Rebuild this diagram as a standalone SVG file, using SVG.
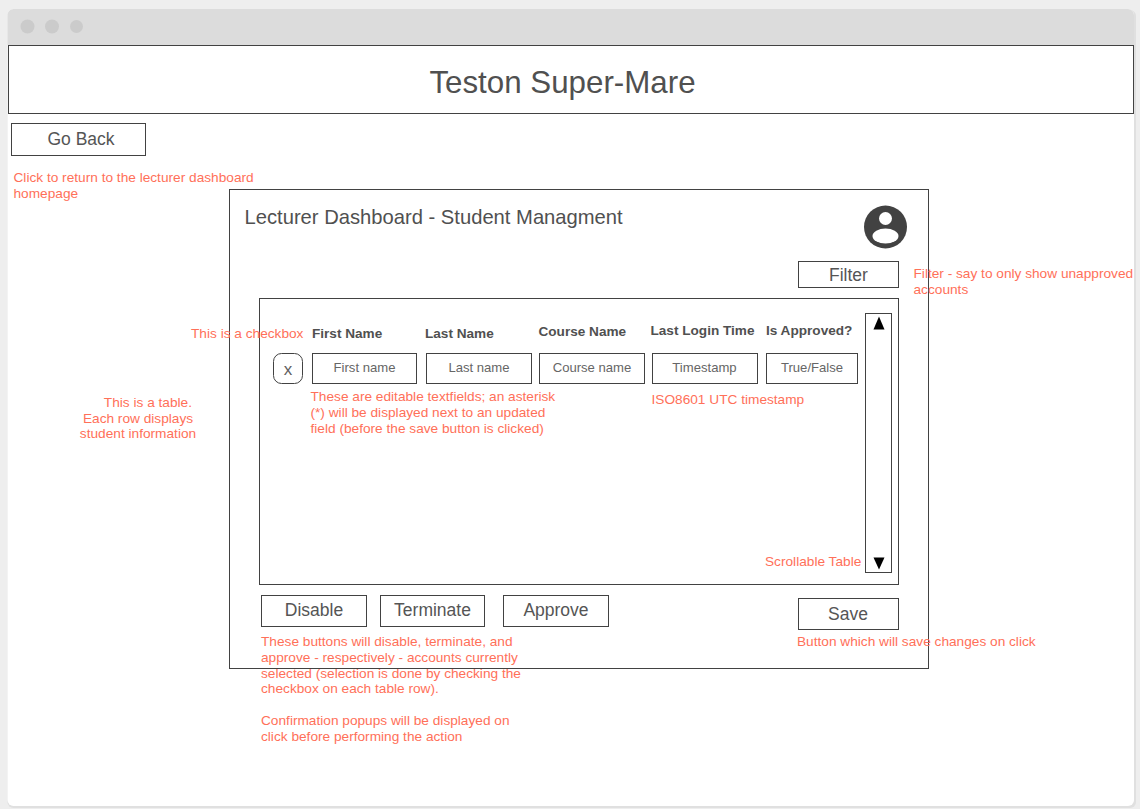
<svg xmlns="http://www.w3.org/2000/svg" width="1140" height="809" viewBox="0 0 1140 809">
<style>
.s{fill:#fff;stroke:#424242;stroke-width:1}
text{font-family:"Liberation Sans",Arial,sans-serif}
.n{font-size:13.680px;fill:#ff7059}
.b{font-size:17.500px;fill:#555555;text-anchor:middle}
.f{font-size:13.100px;fill:#666666;text-anchor:middle}
.h{font-size:13.600px;font-weight:bold;fill:#505050}
.d{fill:#cbcbcb}
</style>
<rect width="1140" height="809" fill="#eeeeee"/>
<g id="window">
<rect x="7.500" y="10" width="1128.500" height="798" rx="6" fill="#e0e0e0"/>
<rect x="7.500" y="9" width="1126.500" height="797" rx="6" fill="#fff"/>
<path d="M7.500 45V15a6 6 0 0 1 6-6H1128a6 6 0 0 1 6 6V45Z" fill="#dcdcdc"/>
<circle class="d" cx="27.500" cy="26.500" r="7"/><circle class="d" cx="52" cy="26.500" r="7"/><circle class="d" cx="76.500" cy="26.500" r="6.500"/>
</g>
<g id="header"><rect class="s" x="8.500" y="45.500" width="1125" height="68"/><text x="562.500" y="93" font-size="31.300" fill="#505050" text-anchor="middle">Teston Super-Mare</text></g>
<g id="go-back"><rect class="s" x="11.500" y="123.500" width="134" height="32"/><text class="b" x="81" y="145">Go Back</text></g>
<text class="n"><tspan x="13.500" y="182">Click to return to the lecturer dashboard</tspan><tspan x="13.500" y="198">homepage</tspan></text>
<g id="dashboard"><rect class="s" x="229.500" y="189.500" width="699" height="479"/><text x="244.500" y="224" font-size="20.200" fill="#505050">Lecturer Dashboard - Student Managment</text></g>
<g id="avatar"><circle cx="885.500" cy="227" r="21.500" fill="#424242"/><circle cx="885.500" cy="218.500" r="6.500" fill="#fff"/><ellipse cx="885.500" cy="236" rx="13" ry="7.500" fill="#fff"/></g>
<g id="filter"><rect class="s" x="798.500" y="261.500" width="100" height="26"/><text class="b" x="848.500" y="281">Filter</text></g>
<text class="n"><tspan x="913.500" y="278">Filter - say to only show unapproved</tspan><tspan x="913.500" y="294">accounts</tspan></text>
<g id="table"><rect class="s" x="259.500" y="298.500" width="639" height="286"/></g>
<g id="scrollbar"><rect class="s" x="865.500" y="313.500" width="26" height="259"/><path d="M873.500 329.500L879 316.500L884.500 329.500Z" fill="#000"/><path d="M873.500 557.500L879 569.500L884.500 557.500Z" fill="#000"/></g>
<text class="n" x="191" y="338">This is a checkbox</text>
<text class="h" x="312" y="338">First Name</text>
<text class="h" x="425" y="338">Last Name</text>
<text class="h" x="538.500" y="336">Course Name</text>
<text class="h" x="650.500" y="335">Last Login Time</text>
<text class="h" x="766" y="335">Is Approved?</text>
<g id="checkbox"><rect x="273.500" y="353.500" width="29" height="30" rx="8" fill="#fff" stroke="#424242"/><text x="288" y="375" font-size="17" fill="#5f5f5f" text-anchor="middle">x</text></g>
<g id="first-name"><rect class="s" x="312.500" y="353.500" width="104" height="30"/><text class="f" x="364.500" y="372">First name</text></g>
<g id="last-name"><rect class="s" x="426.500" y="353.500" width="105" height="30"/><text class="f" x="479" y="372">Last name</text></g>
<g id="course-name"><rect class="s" x="539.500" y="353.500" width="105" height="30"/><text class="f" x="592" y="372">Course name</text></g>
<g id="timestamp"><rect class="s" x="652.500" y="353.500" width="105" height="30"/><text class="f" x="704.500" y="372">Timestamp</text></g>
<g id="approved"><rect class="s" x="766.500" y="353.500" width="91" height="30"/><text class="f" x="812" y="372">True/False</text></g>
<text class="n" text-anchor="end"><tspan x="192" y="407">This is a table.</tspan></text>
<text class="n" text-anchor="middle"><tspan x="138" y="423">Each row displays</tspan><tspan x="138" y="438">student information</tspan></text>
<text class="n"><tspan x="310.500" y="401">These are editable textfields; an asterisk</tspan><tspan x="310.500" y="417">(*) will be displayed next to an updated</tspan><tspan x="310.500" y="433">field (before the save button is clicked)</tspan></text>
<text class="n" x="651.500" y="404">ISO8601 UTC timestamp</text>
<text class="n" x="765" y="566">Scrollable Table</text>
<g id="disable"><rect class="s" x="261.500" y="595.500" width="105" height="31"/><text class="b" x="314" y="616">Disable</text></g>
<g id="terminate"><rect class="s" x="380.500" y="595.500" width="104" height="31"/><text class="b" x="432.500" y="616">Terminate</text></g>
<g id="approve"><rect class="s" x="503.500" y="595.500" width="105" height="31"/><text class="b" x="556" y="616">Approve</text></g>
<g id="save"><rect class="s" x="798.500" y="598.500" width="100" height="31"/><text class="b" x="848" y="620">Save</text></g>
<text class="n" x="797" y="646">Button which will save changes on click</text>
<text class="n"><tspan x="261" y="646">These buttons will disable, terminate, and</tspan><tspan x="261" y="662">approve - respectively - accounts currently</tspan><tspan x="261" y="678">selected (selection is done by checking the</tspan><tspan x="261" y="693">checkbox on each table row).</tspan><tspan x="261" y="725">Confirmation popups will be displayed on</tspan><tspan x="261" y="741">click before performing the action</tspan></text>
<g id="connectors"/>
</svg>
